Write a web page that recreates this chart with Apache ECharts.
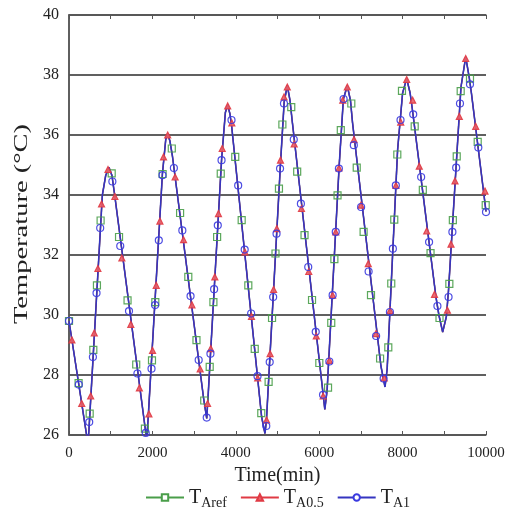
<!DOCTYPE html>
<html><head><meta charset="utf-8">
<script src="https://cdn.jsdelivr.net/npm/echarts@6/dist/echarts.min.js"></script>
<style>html,body{margin:0;padding:0;background:#fff}#c{width:512px;height:511px}</style>
</head><body><div id="c"></div>
<script>
// shared temperature curve: [time (min), temperature (°C)]
const curve = [
  [0,29.8],[455,25.7],[480,26.2],[800,34.0],[880,34.65],[960,34.92],[1030,34.65],[1100,33.95],
  [1820,26.3],[1865,25.85],[1900,26.6],[2240,34.7],[2320,35.85],[2367,36.03],[2420,35.8],[2480,35.3],
  [3230,27.2],[3303,26.55],[3340,27.4],[3660,35.2],[3750,36.75],[3806,37.0],[3860,36.7],[3900,36.3],
  [4620,26.6],[4700,26.05],[4735,26.5],[5070,35.0],[5160,37.1],[5235,37.65],[5300,37.15],[5350,36.5],
  [6050,27.9],[6135,26.85],[6190,27.5],[6480,35.0],[6580,37.2],[6674,37.64],[6750,37.15],[6800,36.4],
  [7480,28.3],[7578,27.6],[7630,28.2],[7880,35.5],[8000,37.4],[8098,37.88],[8180,37.4],[8230,36.9],
  [8800,30.6],[8870,30.0],[8961,29.43],[9050,29.95],[9100,30.8],[9400,37.6],[9513,38.6],[9600,37.9],
  [9650,37.4],[10000,33.45]
];
const greenMarkers = [
  [0,29.8],[230,27.73],[496,26.71],[583,28.84],[670,30.99],[758,33.15],[1024,34.72],
  [1200,32.6],[1404,30.49],[1612,28.35],[1820,26.21],
  [1990,28.49],[2070,30.43],[2245,34.7],
  [2465,35.55],[2664,33.4],[2861,31.27],[3057,29.16],[3243,27.15],
  [3374,28.27],[3463,30.43],[3552,32.6],[3639,34.71],
  [3987,35.27],[4141,33.16],[4300,30.99],[4454,28.87],[4611,26.73],
  [4787,27.77],[4869,29.9],[4952,32.05],[5035,34.21],[5117,36.35],
  [5330,36.93],[5472,34.78],[5648,32.66],[5828,30.5],[6003,28.4],
  [6212,27.58],[6289,29.74],[6364,31.86],[6440,33.99],[6518,36.16],
  [6770,37.05],[6900,34.91],[7065,32.77],[7242,30.66],[7460,28.55],
  [7657,28.92],[7728,31.05],[7800,33.18],[7873,35.35],[7985,37.47],
  [8290,36.29],[8485,34.17],[8670,32.06],[8885,29.9],
  [9121,31.04],[9205,33.16],[9298,35.29],[9393,37.46],
  [9616,37.88],[9801,35.77],[9993,33.66]
];
const redMarkers = [
  [70,29.17],[305,27.05],[520,27.3],[606,29.4],[693,31.55],[780,33.7],[935,34.85],
  [1100,33.95],[1268,31.9],[1482,29.69],[1688,27.57],
  [1917,26.7],[2004,28.82],[2092,30.99],[2180,33.13],[2267,35.27],[2367,36.0],
  [2545,34.6],[2747,32.51],[2948,30.34],[3146,28.2],
  [3323,27.05],[3399,28.88],[3497,31.27],[3584,33.38],[3674,35.55],[3806,36.97],
  [3905,36.4],[4219,32.1],[4376,29.95],[4525,27.9],
  [4738,26.5],[4823,28.71],[4906,30.85],[4984,32.88],[5072,35.16],[5158,37.27],[5235,37.6],
  [5400,35.7],[5575,33.55],[5750,31.45],[5930,29.3],[6095,27.3],
  [6244,28.49],[6322,30.66],[6397,32.77],[6473,34.9],[6565,37.16],[6674,37.6],
  [6835,35.85],[7002,33.66],[7177,31.71],[7362,29.38],[7560,27.9],
  [7700,30.15],[7840,34.32],[7955,36.43],[8098,37.85],
  [8242,37.16],[8400,34.96],[8578,32.8],[8765,30.69],
  [9075,30.16],[9161,32.36],[9257,34.47],[9360,36.62],[9513,38.55],
  [9753,36.29],[9976,34.13]
];
const blueMarkers = [
  [0,29.8],[235,27.68],[485,26.43],[573,28.6],[660,30.73],[748,32.9],[1040,34.45],
  [1229,32.3],[1439,30.13],[1641,28.05],[1840,26.07],
  [1979,28.21],[2065,30.33],[2154,32.49],[2242,34.66],
  [2515,34.9],[2718,32.82],[2915,30.63],[3110,28.5],[3303,26.58],
  [3392,28.71],[3480,30.86],[3568,32.99],[3658,35.16],
  [3897,36.5],[4057,34.32],[4213,32.18],[4368,30.05],[4521,27.96],
  [4731,26.3],[4813,28.43],[4896,30.6],[4977,32.71],[5061,34.88],[5155,37.05],
  [5390,35.85],[5561,33.71],[5737,31.6],[5917,29.44],[6092,27.34],
  [6243,28.45],[6322,30.66],[6397,32.77],[6472,34.88],[6585,37.2],
  [6830,35.66],[7005,33.6],[7185,31.45],[7365,29.3],[7545,27.88],
  [7696,30.1],[7767,32.21],[7838,34.32],[7950,36.5],
  [8255,36.69],[8445,34.6],[8635,32.43],[8835,30.3],
  [9102,30.6],[9194,32.77],[9285,34.91],[9376,37.05],
  [9616,37.69],[9816,35.58],[10000,33.43]
];
const seriesNames = ['TAref','TA0.5','TA1'];
const subLabels = {'TAref':'Aref','TA0.5':'A0.5','TA1':'A1'};
const colors = {'TAref':'#4a9e4a','TA0.5':'#e03a44','TA1':'#3a3ae0'};

const serif = 'Liberation Serif';
const chart = echarts.init(document.getElementById('c'), null, {renderer:'canvas'});
const axisCol = '#555';
const xAxisBase = {
  type:'value', min:0, max:10000, interval:2000,
  axisLine:{show:true, lineStyle:{color:axisCol, width:1.5}},
  axisTick:{show:true, inside:true, length:4, lineStyle:{color:axisCol}},
  minorTick:{show:true, splitNumber:2, length:4, lineStyle:{color:axisCol}},
  splitLine:{show:false}
};
function lineSeries(name, symbol, size, lineColor, width, z){
  return {name:name, type:'line', data:curve, symbol:symbol, symbolSize:size, showSymbol:false,
    lineStyle:{color:lineColor, width:width},
    itemStyle:{color: symbol==='triangle' ? '#ea6068' : '#fff', borderColor:colors[name], borderWidth:1.2},
    z:z};
}
function markerSeries(name, markers, symbol, size, fill, z){
  return {name:name, type:'scatter', data:markers, symbol:symbol, symbolSize:size,
    itemStyle:{color:fill, borderColor:colors[name], borderWidth:1.2, opacity:0.9}, z:z};
}
chart.setOption({
  animation:false,
  backgroundColor:'#fff',
  grid:{left:69, right:26, top:15, bottom:76},
  legend:{
    bottom:-4, left:140, itemWidth:38, itemHeight:8, itemGap:13,
    data:seriesNames,
    formatter: n => '{t|T}{s|' + subLabels[n] + '}',
    textStyle:{ fontFamily:serif, color:'#222',
      rich:{ t:{fontSize:20, fontFamily:serif, color:'#222'},
             s:{fontSize:14, fontFamily:serif, color:'#222', padding:[11,0,0,0]} } }
  },
  graphic:[{
    type:'text', x:22, y:224, rotation:Math.PI/2, scaleX:1.5,
    style:{text:'Temperature (°C)', font:'19px "Liberation Serif"', fill:'#222',
           align:'center', verticalAlign:'middle'}
  }],
  xAxis:[Object.assign({}, xAxisBase, {
    position:'bottom',
    name:'Time(min)', nameLocation:'middle', nameGap:31,
    nameTextStyle:{fontFamily:serif, fontSize:20, color:'#222'},
    axisLabel:{fontFamily:serif, fontSize:15, color:'#222', margin:11, formatter: v => String(v)}
  }), Object.assign({}, xAxisBase, {position:'top', axisLabel:{show:false}})],
  yAxis:[{
    type:'value', min:26, max:40, interval:2,
    axisLine:{show:true, lineStyle:{color:axisCol, width:1.5}},
    axisTick:{show:false},
    axisLabel:{fontFamily:serif, fontSize:16, color:'#222', margin:10},
    splitLine:{show:true, lineStyle:{color:'#606060', width:2}}
  },{
    type:'value', min:26, max:40, interval:2, position:'right',
    axisLine:{show:true, lineStyle:{color:axisCol, width:1.5}},
    axisTick:{show:false}, axisLabel:{show:false}, splitLine:{show:false}
  }],
  series:[
    lineSeries('TAref','rect',6,'#4a9e4a',1.3,2),
    lineSeries('TA0.5','triangle',6,'#e03a44',1.3,3),
    lineSeries('TA1','circle',7,'#3535c0',1.6,4),
    markerSeries('TAref', greenMarkers, 'rect', 7, 'rgba(255,255,255,0)', 5),
    markerSeries('TA0.5', redMarkers, 'triangle', 6, '#ea6068', 6),
    markerSeries('TA1', blueMarkers, 'circle', 7, 'rgba(255,255,255,0)', 7)
  ]
});
</script></body></html>
